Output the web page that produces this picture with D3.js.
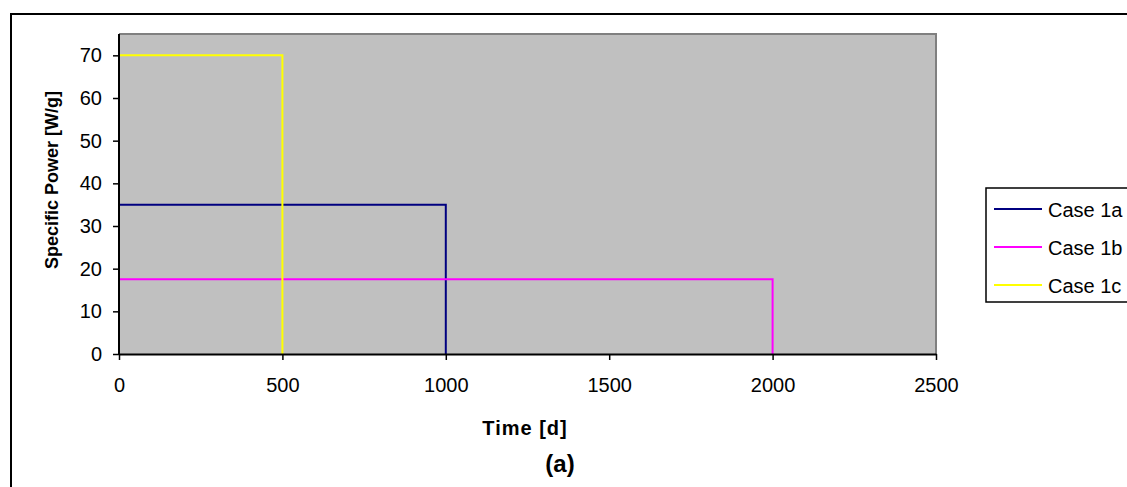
<!DOCTYPE html>
<html>
<head>
<meta charset="utf-8">
<script src="https://cdn.jsdelivr.net/npm/d3@7"></script>
<style>
  body { margin: 0; background: #fff; }
  svg { display: block; font-family: "Liberation Sans", Arial, sans-serif; }
</style>
</head>
<body>
<div id="chart"></div>
<script>
// step profiles: constant power from t=0 to end of irradiation
const seriesNames = ["Case 1a", "Case 1b", "Case 1c"];
const seriesColors = ["#000080", "#ff00ff", "#ffff00"];
const seriesPower = [35, 17.5, 70];
const seriesEnd = [1000, 2000, 500];
const xTicks = [0, 500, 1000, 1500, 2000, 2500];
const yTicks = [0, 10, 20, 30, 40, 50, 60, 70];

const width = 1127, height = 487;
const plot = { left: 119, top: 34, right: 936, bottom: 354 };

const svg = d3.select("#chart").append("svg")
    .attr("width", width)
    .attr("height", height);

// outer frame
svg.append("rect")
    .attr("x", 11).attr("y", 14)
    .attr("width", width + 20).attr("height", height + 20)
    .attr("fill", "none")
    .attr("stroke", "#000")
    .attr("stroke-width", 2);

const x = d3.scaleLinear().domain([0, 2500]).range([plot.left, plot.right]);
const y = d3.scaleLinear().domain([0, 75]).range([plot.bottom, plot.top]);

// plot area
svg.append("rect")
    .attr("x", plot.left).attr("y", plot.top)
    .attr("width", plot.right - plot.left)
    .attr("height", plot.bottom - plot.top)
    .attr("fill", "#c0c0c0");
svg.append("path")
    .attr("d", "M" + plot.left + "," + plot.top + "H" + plot.right + "V" + plot.bottom)
    .attr("fill", "none")
    .attr("stroke", "#808080")
    .attr("stroke-width", 2);

// series
const line = d3.line().x(d => x(d[0])).y(d => y(d[1]));
seriesNames.forEach((name, i) => {
    const pts = [[0, 0], [0, seriesPower[i]], [seriesEnd[i], seriesPower[i]], [seriesEnd[i], 0]];
    svg.append("path")
        .attr("d", line(pts))
        .attr("fill", "none")
        .attr("stroke", seriesColors[i])
        .attr("stroke-width", 2);
});

// axes
const xAxis = svg.append("g")
    .attr("transform", "translate(0," + plot.bottom + ")")
    .call(d3.axisBottom(x).tickValues(xTicks).tickFormat(d3.format("d"))
        .tickSize(6).tickSizeOuter(0).tickPadding(18));
const yAxis = svg.append("g")
    .attr("transform", "translate(" + plot.left + ",0)")
    .call(d3.axisLeft(y).tickValues(yTicks).tickFormat(d3.format("d"))
        .tickSize(6).tickSizeOuter(0).tickPadding(11));

[xAxis, yAxis].forEach(g => {
    g.attr("font-size", null).attr("font-family", null);
    g.select(".domain").attr("stroke", "#000").attr("stroke-width", 2);
    g.selectAll(".tick line").attr("stroke", "#000").attr("stroke-width", 1.5);
    g.selectAll(".tick text")
        .attr("fill", "#000")
        .style("font-size", "20px");
});
yAxis.select(".domain").attr("d", "M0," + plot.bottom + "V" + plot.top);

// titles
svg.append("text")
    .attr("transform", "translate(58,180) rotate(-90)")
    .attr("text-anchor", "middle")
    .style("font-size", "18px")
    .style("font-weight", "bold")
    .text("Specific Power [W/g]");
svg.append("text")
    .attr("x", 525).attr("y", 435)
    .attr("text-anchor", "middle")
    .style("font-size", "20px")
    .style("font-weight", "bold")
    .style("letter-spacing", "1px")
    .text("Time [d]");
svg.append("text")
    .attr("x", 560).attr("y", 472)
    .attr("text-anchor", "middle")
    .style("font-size", "24px")
    .style("font-weight", "bold")
    .text("(a)");

// legend
const legend = svg.append("g");
legend.append("rect")
    .attr("x", 986).attr("y", 188)
    .attr("width", 160).attr("height", 114)
    .attr("fill", "#fff")
    .attr("stroke", "#000")
    .attr("stroke-width", 1.5);
seriesNames.forEach((name, i) => {
    const ly = 209 + i * 38;
    legend.append("line")
        .attr("x1", 994).attr("x2", 1042)
        .attr("y1", ly).attr("y2", ly)
        .attr("stroke", seriesColors[i])
        .attr("stroke-width", 2);
    legend.append("text")
        .attr("x", 1048).attr("y", ly + 7.5)
        .style("font-size", "20px")
        .text(name);
});
</script>
</body>
</html>
